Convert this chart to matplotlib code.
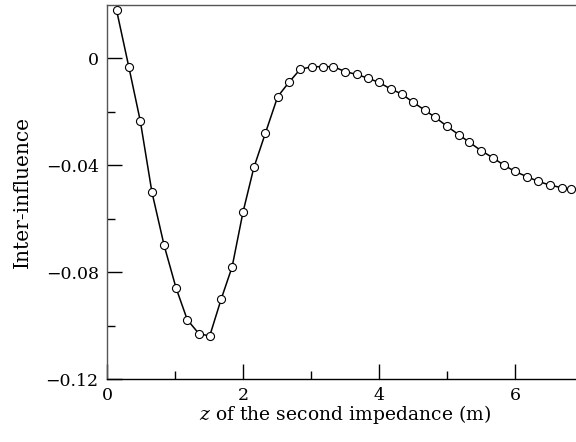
import matplotlib
matplotlib.use("Agg")
import matplotlib.pyplot as plt
from matplotlib.ticker import FixedLocator, FixedFormatter

# position of the second impedance (m)
z_pos = [0.14, 0.32, 0.49, 0.66, 0.84, 1.015, 1.18, 1.35, 1.51, 1.68,
         1.84, 2.00, 2.16, 2.33, 2.51, 2.68, 2.84, 3.01, 3.17, 3.33,
         3.50, 3.67, 3.84, 4.00, 4.17, 4.34, 4.50, 4.67, 4.83, 5.00,
         5.17, 5.33, 5.50, 5.67, 5.84, 6.00, 6.17, 6.34, 6.51, 6.69,
         6.83]

inter_influence = [0.0181, -0.0031, -0.0235, -0.0500, -0.0700, -0.0859, -0.0978,
                   -0.1030, -0.1039, -0.0900, -0.0780, -0.0575, -0.0408, -0.0279,
                   -0.0143, -0.0088, -0.0041, -0.0031, -0.0031, -0.0031, -0.0049,
                   -0.0060, -0.0074, -0.0090, -0.0114, -0.0134, -0.0164, -0.0193,
                   -0.0221, -0.0254, -0.0285, -0.0314, -0.0345, -0.0371, -0.0400,
                   -0.0423, -0.0442, -0.0460, -0.0474, -0.0484, -0.0489]

x_ticks = [0, 2, 4, 6]
x_tick_labels = ["0", "2", "4", "6"]
x_minor = [1, 3, 5]
y_ticks = [-0.12, -0.08, -0.04, 0.0]
y_tick_labels = ["\u22120.12", "\u22120.08", "\u22120.04", "0"]
y_minor = [-0.10, -0.06, -0.02]

plt.rcParams["font.family"] = ["DejaVu Serif"]
plt.rcParams["mathtext.fontset"] = "dejavuserif"

fig = plt.figure(figsize=(5.76, 4.42), dpi=100)
ax = fig.add_axes([0.1858, 0.1425, 1.0 - 0.1858, 0.9887 - 0.1425])

ax.plot(z_pos, inter_influence, color="black", linewidth=1.1,
        marker="o", markersize=5.8, markerfacecolor="white",
        markeredgecolor="black", markeredgewidth=0.8, clip_on=False)

xmax = (576 - 107) / 68.0
ax.set_xlim(0, xmax)
ax.set_ylim(-0.12, 0.02)

ax.xaxis.set_major_locator(FixedLocator(x_ticks))
ax.xaxis.set_major_formatter(FixedFormatter(x_tick_labels))
ax.xaxis.set_minor_locator(FixedLocator(x_minor))
ax.yaxis.set_major_locator(FixedLocator(y_ticks))
ax.yaxis.set_major_formatter(FixedFormatter(y_tick_labels))
ax.yaxis.set_minor_locator(FixedLocator(y_minor))

ax.tick_params(which="major", direction="in", length=11, width=1.0,
               labelsize=12.5, pad=6, top=False, right=False)
ax.tick_params(which="minor", direction="in", length=5.5, width=1.0,
               top=False, right=False)

ax.spines["right"].set_visible(False)
ax.spines["top"].set_color("#555555")
ax.spines["left"].set_color("#555555")
ax.spines["bottom"].set_color("black")
for s in ax.spines.values():
    s.set_linewidth(1.0)

ax.set_xlabel(r"$z$ of the second impedance (m)", fontsize=13.5)
ax.xaxis.set_label_coords(3.5 / xmax, -0.065)
ax.set_ylabel("Inter-influence", fontsize=14.5)
ax.yaxis.set_label_coords(-0.16, 0.5)

fig.savefig("out.png", dpi=100)
